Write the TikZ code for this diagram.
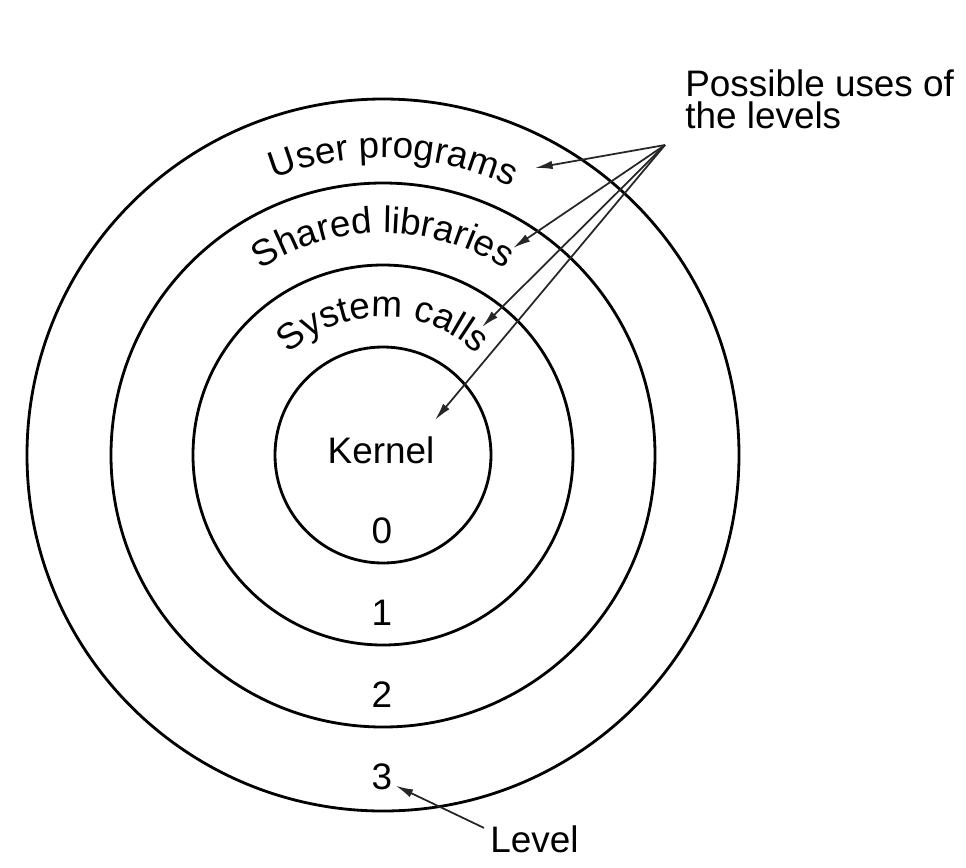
\documentclass[tikz,border=0pt]{standalone}
\usepackage{fontspec}
\setmainfont{Liberation Sans}
\usetikzlibrary{arrows.meta,positioning,decorations.text}

\newcommand{\lblfont}{\fontsize{21}{18.2}\selectfont}

\begin{document}
\begin{tikzpicture}[
    x=0.02cm, y=0.02cm,
    font=\lblfont,
    ring/.style={draw=black, line width=1.6pt},
    lbl/.style={inner sep=0pt, anchor=base},
    arr/.style={-{Latex[length=10pt,width=4.8pt]}, line width=1pt, draw=black!85},
    curved/.style={decorate, decoration={text along path,
      text align=center, text={|\lblfont|#1}}}
  ]
    \useasboundingbox (-383,-412) rectangle (583,455);
    \coordinate (ctr) at (0,0);

    % levels
    \foreach \r in {108,190,272,356}
      \draw[ring] (ctr) circle (\r);

    \path[curved={User programs}] (ctr) ++(128:297) arc (128:48:297);
    \path[curved={Shared libraries}] (ctr) ++(140:222) arc (140:40:222);
    \path[curved={System calls}] (ctr) ++(155:138) arc (155:25:138);

    \node[lbl] (kern) at (-2,-8) {Kernel};
    \foreach \i/\y in {0/-88,1/-170,2/-252,3/-334}
      \node[lbl] (n\i) at (-1,\y) {\i};

    \node[lbl, anchor=base west] (lvl) at (107,-397) {Level};
    \node[lbl, anchor=base west, align=left] (uses) at (302,327) {Possible uses of\\the levels};

    % uses
    \coordinate (fan) at (282,310);
    \coordinate (tu) at (152,287);
    \coordinate (tl) at (130,207);
    \coordinate (ts) at (99,128);
    \coordinate (tk) at (52,35);
    \foreach \t in {tu,tl,ts,tk}
      \draw[arr] (fan) -- (\t);

    \draw[arr] ([shift={(-6,-3)}]lvl.north west) -- ([shift={(3,4)}]n3.south east);
\end{tikzpicture}
\end{document}
